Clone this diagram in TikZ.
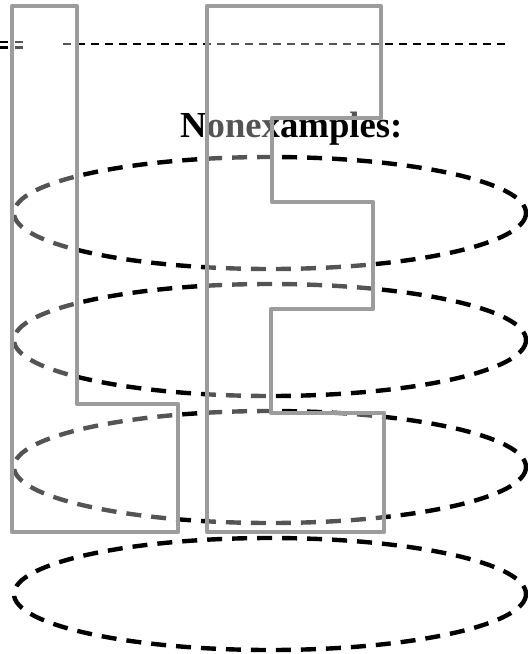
\documentclass[tikz,border=0pt]{standalone}
\usepackage{fontspec}
\setmainfont{Liberation Serif}
\definecolor{ShapeLine}{HTML}{9C9C9C}
\definecolor{RingInk}{HTML}{000000}

\begin{document}
\begin{tikzpicture}[x=1pt,y=-1pt]
      \useasboundingbox (0,0) rectangle (528,654);

      % stacked rings
      \foreach \cy in {213,340,467,594}
        \draw[RingInk,line width=4.4pt,dash pattern=on 15pt off 10pt] (270,\cy) ellipse [x radius=256, y radius=56];

      % top rule and its double stub
      \draw[RingInk,line width=2pt,dash pattern=on 8pt off 6pt] (63,44) -- (505,44);
      \draw[RingInk,line width=2.6pt,dash pattern=on 8pt off 7pt] (0,42) -- (24,42);
      \draw[RingInk,line width=2.6pt,dash pattern=on 8pt off 7pt] (0,47.5) -- (24,47.5);

      \node[anchor=base west,inner sep=0pt,font=\bfseries\fontsize{36.7}{40}\selectfont] (nonex) at (180,137) {Nonexamples:};

      % the two letters, washed over the rest
      \draw[ShapeLine,line width=4.2pt,line join=round,fill=white,fill opacity=0.33]
        (12,6) -- (77,6) -- (77,404) -- (178,404) -- (178,532) -- (12,532) -- cycle;
      \draw[ShapeLine,line width=4.2pt,line join=round,fill=white,fill opacity=0.33]
        (207,6) -- (381,6) -- (381,118) -- (272,118) -- (272,202) -- (373,202) -- (373,309)
        -- (271,309) -- (271,413) -- (384,413) -- (384,532) -- (207,532) -- cycle;
\end{tikzpicture}
\end{document}
